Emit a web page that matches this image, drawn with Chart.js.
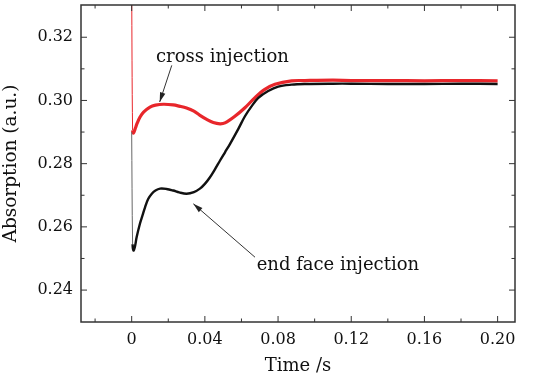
<!DOCTYPE html>
<html>
<head>
<meta charset="utf-8">
<script src="https://cdn.jsdelivr.net/npm/chart.js@4"></script>
<style>
  html, body { margin: 0; padding: 0; background: #fff; }
  #wrap { width: 535px; height: 377px; }
</style>
</head>
<body>
<div id="wrap"><canvas id="chart"></canvas></div>
<script>
// data
const timeCross = [0, 0.0005, 0.001, 0.002, 0.003, 0.0045, 0.0065, 0.010, 0.013, 0.0173, 0.0227, 0.026, 0.030, 0.034, 0.0373, 0.041, 0.0446, 0.0483, 0.051, 0.0564, 0.0619, 0.0674, 0.0728, 0.0783, 0.0874, 0.0947, 0.11, 0.12, 0.14, 0.16, 0.18, 0.20];
const absCross = [0.335, 0.2905, 0.2897, 0.2912, 0.2928, 0.2947, 0.2963, 0.2979, 0.2985, 0.2988, 0.2986, 0.2982, 0.2976, 0.2966, 0.2953, 0.2940, 0.2930, 0.2926, 0.2929, 0.2950, 0.2977, 0.3009, 0.3035, 0.3051, 0.3062, 0.3063, 0.3064, 0.3063, 0.3063, 0.3062, 0.3063, 0.3062];

const timeEnd = [0, 0.0005, 0.001, 0.0018, 0.0027, 0.0045, 0.006, 0.0073, 0.009, 0.011, 0.013, 0.0155, 0.019, 0.0227, 0.026, 0.030, 0.034, 0.0373, 0.040, 0.0428, 0.0455, 0.0483, 0.051, 0.0537, 0.0583, 0.0619, 0.0656, 0.0692, 0.0746, 0.0801, 0.0874, 0.0947, 0.11, 0.12, 0.14, 0.16, 0.18, 0.20];
const absEnd = [0.290, 0.2545, 0.2525, 0.2538, 0.2567, 0.261, 0.2638, 0.2662, 0.2688, 0.2705, 0.2715, 0.2721, 0.2720, 0.2715, 0.2709, 0.2705, 0.2710, 0.2721, 0.2736, 0.2757, 0.2782, 0.2810, 0.2836, 0.2862, 0.2910, 0.2950, 0.2982, 0.3008, 0.3030, 0.3044, 0.3050, 0.3052, 0.3053, 0.3053, 0.3052, 0.3052, 0.3053, 0.3052];

const xTicks = [0, 0.04, 0.08, 0.12, 0.16, 0.20];
const xMinor = [-0.02, 0.02, 0.06, 0.10, 0.14, 0.18];
const yTicks = [0.24, 0.26, 0.28, 0.30, 0.32];
const yMinor = [0.25, 0.27, 0.29, 0.31];

const FONT = "'DejaVu Serif', serif";

const toPts = (xs, ys) => xs.map((x, i) => ({ x: x, y: ys[i] }));

// text labels with arrows, in data units
const notes = [
  { text: 'cross injection', tx: 0.0133, ty: 0.3123, from: [0.0219, 0.3111], to: [0.0153, 0.2995] },
  { text: 'end face injection', tx: 0.0683, ty: 0.2462, from: [0.0674, 0.2504], to: [0.0337, 0.2673] }
];

const frame = {
  id: 'frame',
  afterDatasetsDraw(chart) {
    const ctx = chart.ctx, a = chart.chartArea;
    const xs = chart.scales.x, ys = chart.scales.y;
    ctx.save();
    ctx.strokeStyle = '#333';
    ctx.lineWidth = 1.5;
    ctx.strokeRect(a.left, a.top, a.right - a.left, a.bottom - a.top);
    ctx.lineWidth = 1;
    const tickX = (v, len) => {
      const p = xs.getPixelForValue(v);
      ctx.beginPath();
      ctx.moveTo(p, a.bottom); ctx.lineTo(p, a.bottom - len);
      ctx.moveTo(p, a.top); ctx.lineTo(p, a.top + len);
      ctx.stroke();
    };
    const tickY = (v, len) => {
      const p = ys.getPixelForValue(v);
      ctx.beginPath();
      ctx.moveTo(a.left, p); ctx.lineTo(a.left + len, p);
      ctx.moveTo(a.right, p); ctx.lineTo(a.right - len, p);
      ctx.stroke();
    };
    xTicks.forEach(v => tickX(v, 6));
    xMinor.forEach(v => tickX(v, 3.5));
    yTicks.forEach(v => tickY(v, 6));
    yMinor.forEach(v => tickY(v, 3.5));

    ctx.font = '18px ' + FONT;
    ctx.fillStyle = '#111';
    ctx.textAlign = 'left';
    ctx.textBaseline = 'alphabetic';
    notes.forEach(n => {
      ctx.fillText(n.text, xs.getPixelForValue(n.tx), ys.getPixelForValue(n.ty));
      const x1 = xs.getPixelForValue(n.from[0]), y1 = ys.getPixelForValue(n.from[1]);
      const x2 = xs.getPixelForValue(n.to[0]), y2 = ys.getPixelForValue(n.to[1]);
      ctx.strokeStyle = '#333';
      ctx.lineWidth = 1;
      ctx.beginPath(); ctx.moveTo(x1, y1); ctx.lineTo(x2, y2); ctx.stroke();
      const ang = Math.atan2(y2 - y1, x2 - x1);
      ctx.beginPath();
      ctx.moveTo(x2, y2);
      ctx.lineTo(x2 - 10 * Math.cos(ang - 0.28), y2 - 10 * Math.sin(ang - 0.28));
      ctx.lineTo(x2 - 10 * Math.cos(ang + 0.28), y2 - 10 * Math.sin(ang + 0.28));
      ctx.closePath();
      ctx.fillStyle = '#222';
      ctx.fill();
      ctx.fillStyle = '#111';
    });
    ctx.restore();
  }
};

new Chart(document.getElementById('chart'), {
  type: 'line',
  data: {
    datasets: [
      {
        label: 'end face injection',
        data: toPts(timeEnd, absEnd),
        borderColor: '#111',
        borderWidth: 2.4,
        pointRadius: 0,
        tension: 0.35,
        segment: {
          borderWidth: c => c.p0DataIndex === 0 ? 1 : 2.4,
          borderColor: c => c.p0DataIndex === 0 ? '#666' : '#111'
        }
      },
      {
        label: 'cross injection',
        data: toPts(timeCross, absCross),
        borderColor: '#e8262b',
        borderWidth: 3.2,
        pointRadius: 0,
        tension: 0.35,
        segment: {
          borderWidth: c => c.p0DataIndex === 0 ? 1 : 3.2
        }
      }
    ]
  },
  options: {
    responsive: true,
    maintainAspectRatio: false,
    animation: false,
    layout: { padding: { top: 5, right: 20, left: 0, bottom: 0 } },
    plugins: { legend: { display: false }, tooltip: { enabled: false } },
    scales: {
      x: {
        type: 'linear',
        min: -0.0277,
        max: 0.2095,
        afterBuildTicks: s => { s.ticks = xTicks.map(v => ({ value: v })); },
        afterFit: s => { s.height = 55; s.paddingLeft = 0; s.paddingRight = 0; },
        grid: { display: false, drawTicks: false },
        border: { display: false },
        ticks: {
          padding: 8,
          color: '#111',
          font: { family: FONT, size: 16 },
          callback: v => v === 0 ? '0' : v.toFixed(2)
        },
        title: {
          display: true,
          text: 'Time /s',
          color: '#111',
          font: { family: FONT, size: 18 },
          padding: { top: 0, bottom: 0 }
        }
      },
      y: {
        min: 0.2299,
        max: 0.3302,
        afterBuildTicks: s => { s.ticks = yTicks.map(v => ({ value: v })); },
        afterFit: s => { s.width = 81; s.paddingTop = 0; s.paddingBottom = 0; },
        grid: { display: false, drawTicks: false },
        border: { display: false },
        ticks: {
          padding: 8,
          color: '#111',
          font: { family: FONT, size: 16 },
          callback: v => v.toFixed(2)
        },
        title: {
          display: true,
          text: 'Absorption (a.u.)',
          color: '#111',
          font: { family: FONT, size: 18.5 },
          padding: { top: 0, bottom: 3 }
        }
      }
    }
  },
  plugins: [frame]
});
</script>
</body>
</html>
